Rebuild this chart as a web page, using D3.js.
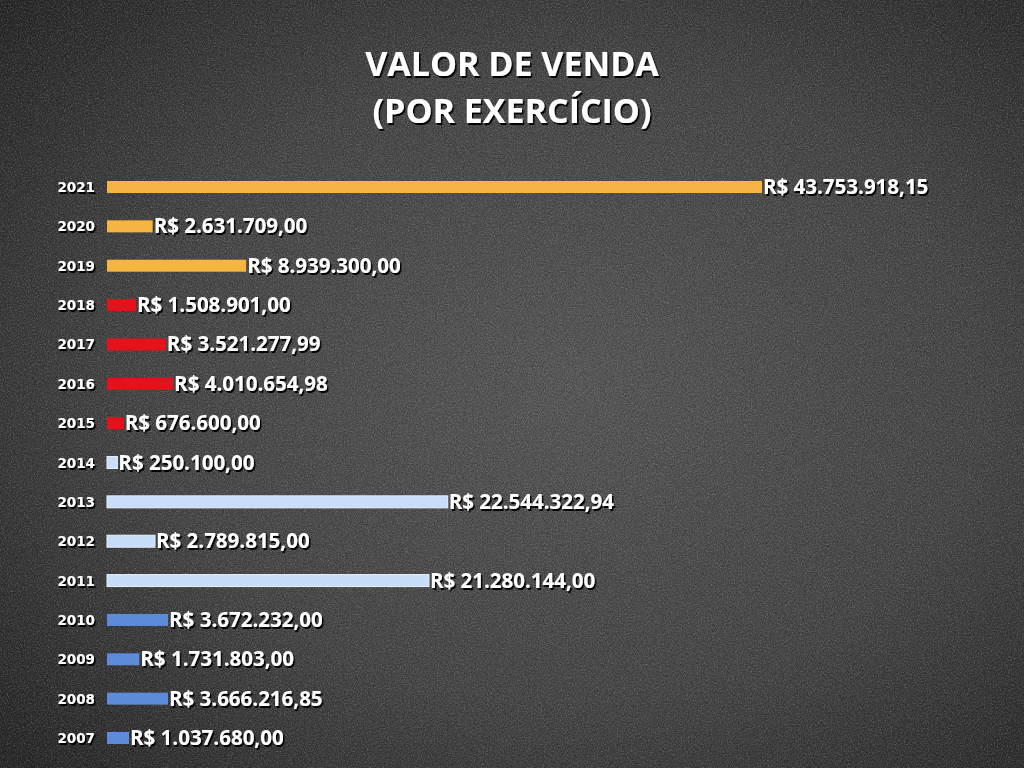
<!DOCTYPE html>
<html><head><meta charset="utf-8">
<script src="https://cdn.jsdelivr.net/npm/d3@7/dist/d3.min.js"></script>
<style>html,body{margin:0;padding:0;background:#333;overflow:hidden}</style>
</head><body>
<svg id="c" width="1024" height="768"></svg>
<script>
const years = ["2021","2020","2019","2018","2017","2016","2015","2014","2013","2012","2011","2010","2009","2008","2007"];
const values = [43753918.15,2631709.00,8939300.00,1508901.00,3521277.99,4010654.98,676600.00,250100.00,22544322.94,2789815.00,21280144.00,3672232.00,1731803.00,3666216.85,1037680.00];
const labels = ["R$ 43.753.918,15","R$ 2.631.709,00","R$ 8.939.300,00","R$ 1.508.901,00","R$ 3.521.277,99","R$ 4.010.654,98","R$ 676.600,00","R$ 250.100,00","R$ 22.544.322,94","R$ 2.789.815,00","R$ 21.280.144,00","R$ 3.672.232,00","R$ 1.731.803,00","R$ 3.666.216,85","R$ 1.037.680,00"];
const groups = ["a","a","a","b","b","b","b","c","c","c","c","d","d","d","d"];
const titleLines = ["VALOR DE VENDA","(POR EXERCÍCIO)"];

const svg = d3.select("#c");
const defs = svg.append("defs");
const rg = defs.append("radialGradient").attr("id","bg").attr("cx","55%").attr("cy","50%").attr("r","75%");
rg.append("stop").attr("offset","0%").attr("stop-color","#575757");
rg.append("stop").attr("offset","55%").attr("stop-color","#454545");
rg.append("stop").attr("offset","100%").attr("stop-color","#232323");
const nf = defs.append("filter").attr("id","noise").attr("x","0").attr("y","0").attr("width","100%").attr("height","100%");
nf.append("feTurbulence").attr("type","fractalNoise").attr("baseFrequency","0.7").attr("numOctaves","3").attr("seed","5").attr("result","n");
nf.append("feColorMatrix").attr("type","matrix").attr("values","0 0 0 0 0.55  0 0 0 0 0.55  0 0 0 0 0.55  0 0 0 1.8 -0.75");
const nf2 = defs.append("filter").attr("id","noise2").attr("x","0").attr("y","0").attr("width","100%").attr("height","100%");
nf2.append("feTurbulence").attr("type","fractalNoise").attr("baseFrequency","0.9").attr("numOctaves","2").attr("seed","11");
nf2.append("feColorMatrix").attr("type","matrix").attr("values","0 0 0 0 0  0 0 0 0 0  0 0 0 0 0  0 0 0 1.8 -0.8");
const sh = defs.append("filter").attr("id","sh").attr("x","-10%").attr("y","-30%").attr("width","130%").attr("height","170%");
sh.append("feDropShadow").attr("dx","1.5").attr("dy","2").attr("stdDeviation","0.6").attr("flood-color","#000").attr("flood-opacity","1");

svg.append("rect").attr("width",1024).attr("height",768).attr("fill","url(#bg)");
svg.append("rect").attr("width",1024).attr("height",768).attr("filter","url(#noise)").attr("opacity",0.35);
svg.append("rect").attr("width",1024).attr("height",768).attr("filter","url(#noise2)").attr("opacity",0.4);

const color = d3.scaleOrdinal().domain(["a","b","c","d"]).range(["#F6B443","#E3121B","#C8DDF8","#5B8BD9"]);
const x = d3.scaleLinear().domain([-450000, d3.max(values)]).range([107, 762]);
const y = d3.scalePoint().domain(years).range([187, 738]);
const bh = 12;
const x0 = x.range()[0];

svg.append("g").selectAll("text").data(titleLines).join("text")
  .attr("x",512).attr("y",(d,i)=>76+i*46.5).attr("text-anchor","middle")
  .attr("font-family","'Open Sans', sans-serif").attr("font-weight",700).attr("font-size",34)
  .attr("fill","#fff").attr("filter","url(#sh)").text(d=>d);

const rows = years.map((yr,i)=>({yr, v:values[i], l:labels[i], g:groups[i]}));

svg.append("g").selectAll("rect").data(rows).join("rect")
  .attr("x",x0).attr("y",d=>y(d.yr)-bh/2).attr("width",d=>x(d.v)-x0).attr("height",bh)
  .attr("fill",d=>color(d.g)).attr("stroke",d=>d.g==="c"?"#eaf2fd":"none").attr("stroke-width",1);

svg.append("g").selectAll("text").data(rows).join("text")
  .attr("x",95).attr("y",d=>y(d.yr)+5).attr("text-anchor","end")
  .attr("font-family","'DejaVu Sans', sans-serif").attr("font-weight",700).attr("font-size",13.5)
  .attr("fill","#fff").attr("filter","url(#sh)").text(d=>d.yr);

svg.append("g").selectAll("text").data(rows).join("text")
  .attr("x",d=>x(d.v)+1).attr("y",d=>y(d.yr)+7)
  .attr("font-family","'Open Sans', sans-serif").attr("font-weight",700).attr("font-size",20.5)
  .attr("fill","#fff").attr("filter","url(#sh)").text(d=>d.l);
</script>
</body></html>
